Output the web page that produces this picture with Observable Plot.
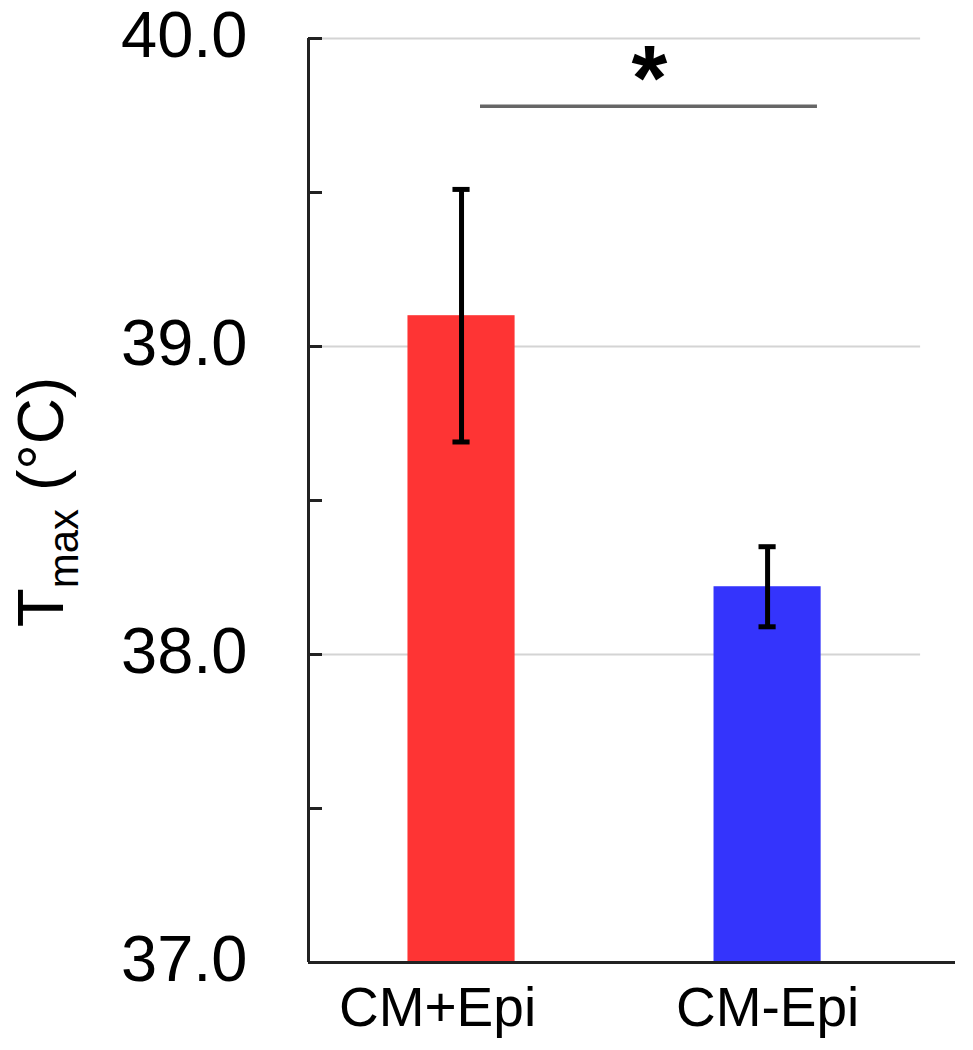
<!DOCTYPE html>
<html><head><meta charset="utf-8">
<script src="https://cdn.jsdelivr.net/npm/d3@7"></script>
<script src="https://cdn.jsdelivr.net/npm/@observablehq/plot@0.6"></script>
<style>
body{margin:0;background:#fff;}
#chart{width:973px;height:1050px;}
</style>
</head><body><div id="chart"></div>
<script>
// ---- data ----
const categories = ["CM+Epi", "CM-Epi"];
const means = [39.10, 38.22];
const errors = [0.41, 0.13];
const barColors = ["#fe3434", "#3434fc"];
const majorTicks = [37, 38, 39, 40];
const minorTicks = [37, 37.5, 38, 38.5, 39, 39.5, 40];
const gridTicks = [38, 39, 40];
const sigPair = [0, 1];
const sigLabel = "*";
const yTitleMain = "T";
const yTitleSub = "max";
const yTitleUnit = " (°C)";

// ---- layout ----
const W = 973, H = 1050;
const mL = 308, mR = 18, mT = 38, mB = 88;
const xDomain = [-0.5, 1.614];
const yDomain = [37, 40];
const pxPerX = (W - mL - mR) / (xDomain[1] - xDomain[0]);
const barHalf = 0.175;
const capHalf = 0.028;
const tickLen = 14 / pxPerX;

const rows = categories.map((c, i) => ({
  cat: c, i, mean: means[i], lo: means[i] - errors[i], hi: means[i] + errors[i], color: barColors[i]
}));

const font = "'Liberation Sans', Arial, Helvetica, sans-serif";

const plot = Plot.plot({
  width: W, height: H,
  marginLeft: mL, marginRight: mR, marginTop: mT, marginBottom: mB,
  x: {type: "linear", domain: xDomain, axis: null},
  y: {domain: yDomain, axis: null},
  color: {type: "identity"},
  style: {fontFamily: font, background: "#fff", overflow: "visible"},
  marks: [
    Plot.ruleY(gridTicks, {y: d => d, x1: xDomain[0], x2: 1.5, stroke: "#d4d4d4", strokeWidth: 2}),
    Plot.rectY(rows, {x1: d => d.i - barHalf, x2: d => d.i + barHalf, y1: yDomain[0], y2: "mean", fill: "color"}),
    Plot.ruleX(rows, {x: "i", y1: "lo", y2: "hi", stroke: "#000", strokeWidth: 5}),
    Plot.ruleY(rows, {y: "hi", x1: d => d.i - capHalf, x2: d => d.i + capHalf, stroke: "#000", strokeWidth: 5}),
    Plot.ruleY(rows, {y: "lo", x1: d => d.i - capHalf, x2: d => d.i + capHalf, stroke: "#000", strokeWidth: 5}),
    // axes lines
    Plot.ruleX([xDomain[0]], {x: d => d, y1: yDomain[0], y2: yDomain[1], stroke: "#222", strokeWidth: 3}),
    Plot.ruleY([yDomain[0]], {y: d => d, x1: xDomain[0], x2: xDomain[1], stroke: "#222", strokeWidth: 3}),
    Plot.ruleY(minorTicks, {y: d => d, x1: xDomain[0], x2: xDomain[0] + tickLen, stroke: "#222", strokeWidth: 3}),
    // y tick labels
    Plot.axisY({ticks: majorTicks, tickSize: 0, tickPadding: 61, tickFormat: d => d.toFixed(1),
      fontSize: 65, dy: -2, label: null, fill: "#000"}),
    // x labels
    Plot.text(rows.filter(d => d.i === 0), {x: "i", y: yDomain[0], text: "cat", dx: -24, dy: 24,
      lineAnchor: "top", fontSize: 55, fill: "#000"}),
    Plot.text(rows.filter(d => d.i !== 0), {x: "i", y: yDomain[0], text: "cat", dy: 24,
      lineAnchor: "top", fontSize: 55, fill: "#000"}),
    // significance
    Plot.ruleY([39.78], {y: d => d, x1: sigPair[0] + 0.062, x2: sigPair[1] + 0.163, stroke: "#666", strokeWidth: 3.5}),
    Plot.text([sigLabel], {x: (sigPair[0] + sigPair[1]) / 2 + 0.114, y: 39.75, text: d => d, dy: -6,
      lineAnchor: "bottom", fontSize: 92, fontWeight: "bold", fill: "#000"})
  ]
});

document.getElementById("chart").appendChild(plot);

// y title with subscript
const t = d3.select(plot).append("text")
  .attr("transform", "translate(63,502) rotate(-90)")
  .attr("text-anchor", "middle")
  .attr("font-family", font)
  .attr("fill", "#000");
t.append("tspan").attr("font-size", 64).text(yTitleMain);
t.append("tspan").attr("font-size", 42).attr("dy", 15).text(yTitleSub);
t.append("tspan").attr("font-size", 64).attr("dy", -15).text(yTitleUnit);
</script>
</body></html>
